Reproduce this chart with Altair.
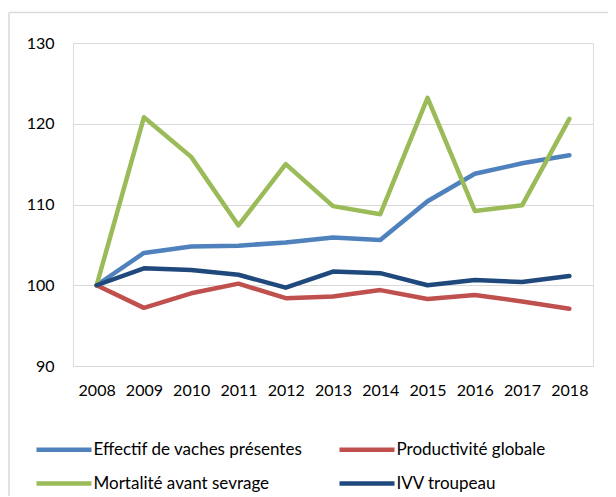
import altair as alt
import pandas as pd

years = ["2008", "2009", "2010", "2011", "2012", "2013", "2014", "2015", "2016", "2017", "2018"]
series_names = ["Effectif de vaches présentes", "Productivité globale",
                "Mortalité avant sevrage", "IVV troupeau"]
effectif = [100, 104.0, 104.8, 104.9, 105.3, 105.9, 105.6, 110.4, 113.8, 115.1, 116.1]
productivite = [100, 97.2, 99.0, 100.2, 98.4, 98.6, 99.4, 98.3, 98.8, 98.0, 97.1]
mortalite = [100, 120.8, 115.9, 107.4, 115.0, 109.8, 108.8, 123.2, 109.2, 109.9, 120.6]
ivv = [100, 102.1, 101.9, 101.3, 99.7, 101.7, 101.5, 100.0, 100.65, 100.4, 101.15]
colors = ["#4F81BD", "#C0504D", "#9BBB59", "#1F497D"]
y_ticks = [90, 100, 110, 120, 130]

rows = []
for name, vals in zip(series_names, [effectif, productivite, mortalite, ivv]):
    for yr, v in zip(years, vals):
        rows.append({"annee": yr, "serie": name, "valeur": v})
df = pd.DataFrame(rows)

FONT = "Lato"

lines = alt.Chart(df).mark_line(
    strokeWidth=4.5, strokeCap="round", strokeJoin="round"
).encode(
    x=alt.X("annee:O", sort=years,
            scale=alt.Scale(type="point", padding=0.5),
            axis=alt.Axis(title=None, labelAngle=0, domain=False, ticks=False,
                          grid=False, labelPadding=16, labelFont=FONT,
                          labelFontSize=16, labelColor="#000000")),
    y=alt.Y("valeur:Q", scale=alt.Scale(domain=[90, 130], nice=False, zero=False),
            axis=alt.Axis(title=None, values=y_ticks, domain=False, ticks=False,
                          grid=True, gridColor="#D9D9D9", gridWidth=1.2,
                          labelPadding=19, labelFont=FONT, labelFontSize=16,
                          labelColor="#000000")),
    color=alt.Color("serie:N",
                    scale=alt.Scale(domain=series_names, range=colors),
                    sort=series_names,
                    legend=alt.Legend(
                        title=None, orient="none", legendX=-37, legendY=398,
                        direction="horizontal",
                        columns=2, symbolType="M-5,0L5,0", symbolSize=121,
                        symbolStrokeWidth=4.5, symbolOffset=19.5, labelOffset=21,
                        rowPadding=15, columnPadding=27, padding=0,
                        labelFont=FONT, labelFontSize=17, labelColor="#000000",
                        labelLimit=400)),
    order=alt.value(0),
)

frame_data = alt.Data(values=[{"k": 1}])
top_border = alt.Chart(frame_data).mark_rule(color="#D9D9D9", strokeWidth=1.5).encode(
    x=alt.value(-64), x2=alt.value(540), y=alt.value(-30.5))
left_border = alt.Chart(frame_data).mark_rule(color="#D9D9D9", strokeWidth=1.5).encode(
    x=alt.value(-64), y=alt.value(-30.5), y2=alt.value(460))

chart = alt.layer(top_border, left_border, lines).properties(
    width=520, height=323,
    autosize=alt.AutoSizeParams(type="none"),
    padding={"left": 65, "top": 35, "right": 15, "bottom": 130},
).configure_view(stroke=None).configure(background="white")

chart.save("out.html", embed_options={"renderer": "svg", "actions": False})
